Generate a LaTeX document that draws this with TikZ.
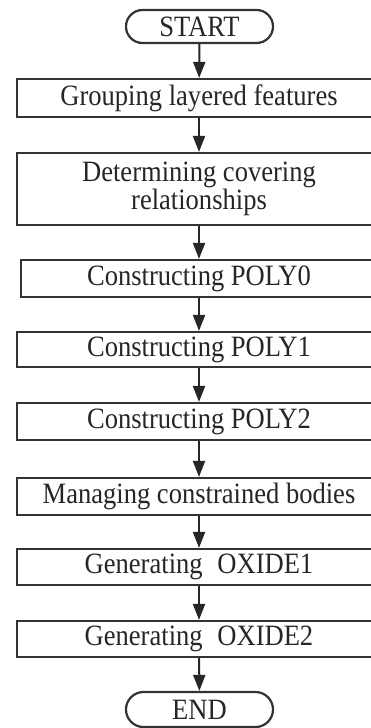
\documentclass[tikz,border=0pt]{standalone}
\usepackage{fontspec}
\setmainfont{Liberation Serif}[FakeStretch=0.9]
\usetikzlibrary{shapes.misc,arrows.meta}
\begin{document}
\begin{tikzpicture}[x=1pt,y=-1pt,
  every node/.style={font=\fontsize{29.5}{23}\selectfont, text=black!85},
  box/.style={draw=black!80, line width=2.2pt, rectangle, minimum width=364pt, inner sep=0pt, align=center},
  term/.style={draw=black!80, line width=2.2pt, rounded rectangle, minimum width=147pt, minimum height=33pt, inner sep=0pt},
  arr/.style={draw=black!85, line width=2pt, -{Triangle[length=16pt,width=12pt]}}]
\useasboundingbox[fill=white] (0,0) rectangle (370,728);
\node[term] (start) at (199.5,26.5) {START};
\node[box, minimum height=38pt] (n1) at (199,98) {Grouping layered features};
\node[box, minimum height=72pt] (n2) at (199,189) {Determining covering\\relationships};
\node[box, minimum height=37pt, minimum width=356pt] (n3) at (199,278.5) {Constructing POLY0};
\node[box, minimum height=35pt] (n4) at (199,349.5) {Constructing POLY1};
\node[box, minimum height=37pt] (n5) at (199,421.5) {Constructing POLY2};
\node[box, minimum height=37pt] (n6) at (199,496.5) {Managing constrained bodies};
\node[box, minimum height=36pt] (n7) at (199,567) {Generating\hspace{0.5em}OXIDE1};
\node[box, minimum height=36pt] (n8) at (199,639) {Generating\hspace{0.5em}OXIDE2};
\node[term, minimum height=35pt] (end) at (199.5,709.5) {END};
\draw[arr] (start) -- (n1);
\draw[arr] (n1) -- (n2);
\draw[arr] (n2) -- (n3);
\draw[arr] (n3) -- (n4);
\draw[arr] (n4) -- (n5);
\draw[arr] (n5) -- (n6);
\draw[arr] (n6) -- (n7);
\draw[arr] (n7) -- (n8);
\draw[arr] (n8) -- (end);
\end{tikzpicture}
\end{document}
